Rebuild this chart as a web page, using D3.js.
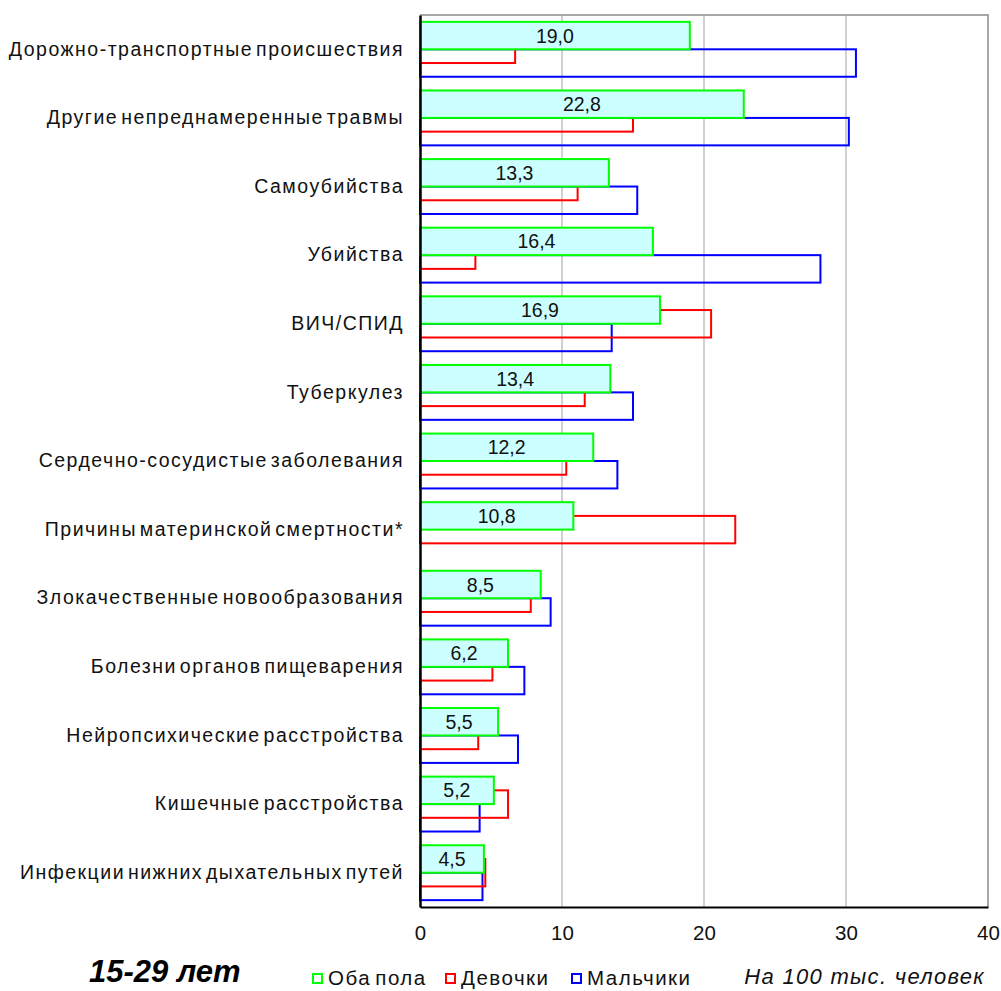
<!DOCTYPE html>
<html>
<head>
<meta charset="utf-8">
<script src="https://cdn.jsdelivr.net/npm/d3@7"></script>
<style>
  html, body { margin: 0; padding: 0; background: #fff; }
  svg { display: block; font-family: "Liberation Sans", Arial, sans-serif; }
</style>
</head>
<body>
<svg id="chart" width="1001" height="991"></svg>
<script>
// Causes of death, age 15-29, per 100 thousand people
const categories = [
  "Дорожно-транспортные происшествия",
  "Другие непреднамеренные травмы",
  "Самоубийства",
  "Убийства",
  "ВИЧ/СПИД",
  "Туберкулез",
  "Сердечно-сосудистые заболевания",
  "Причины материнской смертности*",
  "Злокачественные новообразования",
  "Болезни органов пищеварения",
  "Нейропсихические расстройства",
  "Кишечные расстройства",
  "Инфекции нижних дыхательных путей"
];
const both  = [19.0, 22.8, 13.3, 16.4, 16.9, 13.4, 12.2, 10.8, 8.5, 6.2, 5.5, 5.2, 4.5];
const girls = [6.7, 15.0, 11.1, 3.9, 20.5, 11.6, 10.3, 22.2, 7.8, 5.1, 4.1, 6.2, 4.6];
const boys  = [30.7, 30.2, 15.3, 28.2, 13.5, 15.0, 13.9, 0, 9.2, 7.35, 6.9, 4.2, 4.4];
const xTicks = [0, 10, 20, 30, 40];
const seriesNames = ["Оба пола", "Девочки", "Мальчики"];

const svg = d3.select("#chart");
const plotL = 420, plotR = 988, plotT = 15, plotB = 907;

const x = d3.scaleLinear().domain([0, 40]).range([plotL, plotR]);
const y = d3.scaleBand().domain(categories).range([plotT, plotB]).paddingInner(0.2).paddingOuter(0.1);
const barH = y.bandwidth() / 2;

// vertical gridlines
svg.append("g").selectAll("line")
  .data(xTicks.filter(t => t > 0 && t < 40))
  .join("line")
  .attr("x1", d => x(d)).attr("x2", d => x(d))
  .attr("y1", plotT).attr("y2", plotB)
  .attr("stroke", "#c0c0c0").attr("stroke-width", 1.5);

// plot frame (top and right)
svg.append("path")
  .attr("d", `M${plotL},${plotT}H${plotR}V${plotB}`)
  .attr("fill", "none").attr("stroke", "#8c8c8c").attr("stroke-width", 1.5);

// series: boys (bottom), girls (middle), both (top, filled)
const series = [
  { name: "boys",  vals: boys,  off: 1,   color: "#0000ff", fill: "none" },
  { name: "girls", vals: girls, off: 0.5, color: "#ff0000", fill: "none" },
  { name: "both",  vals: both,  off: 0,   color: "#00ff00", fill: "#ccffff" }
];

series.forEach(s => {
  svg.append("g").attr("class", s.name).selectAll("rect")
    .data(categories.map((c, i) => ({ c, v: s.vals[i] })).filter(d => d.v > 0))
    .join("rect")
    .attr("x", x(0))
    .attr("y", d => y(d.c) + s.off * barH)
    .attr("width", d => x(d.v) - x(0))
    .attr("height", barH)
    .attr("fill", s.fill)
    .attr("stroke", s.color)
    .attr("stroke-width", 2);
});

// value labels inside the "both" bars
svg.append("g").selectAll("text")
  .data(categories.map((c, i) => ({ c, v: both[i] })))
  .join("text")
  .attr("x", d => (x(0) + x(d.v)) / 2)
  .attr("y", d => y(d.c) + barH / 2)
  .attr("dy", "0.36em")
  .attr("text-anchor", "middle")
  .attr("font-size", 19.5)
  .attr("fill", "#111")
  .text(d => d3.format(".1f")(d.v).replace(".", ","));

// axes
const yAxis = svg.append("g").attr("transform", `translate(${plotL},0)`)
  .call(d3.axisLeft(y).tickSize(0).tickPadding(16));
yAxis.select(".domain").attr("stroke", "#000").attr("stroke-width", 2.5);
yAxis.selectAll("text")
  .attr("font-size", 19.5)
  .attr("letter-spacing", "1.5px")
  .attr("word-spacing", "-4px")
  .attr("fill", "#111")
  .attr("font-family", "'Liberation Sans', Arial, sans-serif");

const xAxis = svg.append("g").attr("transform", `translate(0,${plotB})`)
  .call(d3.axisBottom(x).tickValues(xTicks).tickSize(0).tickPadding(18).tickFormat(d3.format("d")));
xAxis.select(".domain").attr("stroke", "#000").attr("stroke-width", 2);
xAxis.selectAll("text")
  .attr("font-size", 20.5)
  .attr("fill", "#111")
  .attr("font-family", "'Liberation Sans', Arial, sans-serif");

// footer: age group, legend, unit
svg.append("text")
  .attr("x", 89).attr("y", 982)
  .attr("font-size", 31).attr("font-weight", "bold").attr("font-style", "italic")
  .attr("fill", "#000")
  .text("15-29 лет");

const legendItems = [
  { name: seriesNames[0], color: "#00ff00", x: 313 },
  { name: seriesNames[1], color: "#ff0000", x: 446 },
  { name: seriesNames[2], color: "#0000ff", x: 572 }
];
const lg = svg.append("g").selectAll("g").data(legendItems).join("g")
  .attr("transform", d => `translate(${d.x},974)`);
lg.append("rect")
  .attr("width", 9).attr("height", 9)
  .attr("fill", "#fff").attr("stroke", d => d.color).attr("stroke-width", 2);
lg.append("text")
  .attr("x", 15).attr("y", 11)
  .attr("font-size", 20.5).attr("fill", "#111")
  .attr("letter-spacing", "1.5px")
  .attr("word-spacing", "-3px")
  .text(d => d.name);

svg.append("text")
  .attr("x", 985).attr("y", 984)
  .attr("text-anchor", "end")
  .attr("font-size", 22).attr("font-style", "italic").attr("fill", "#111")
  .attr("letter-spacing", "1.3px")
  .text("На 100 тыс. человек");
</script>
</body>
</html>
